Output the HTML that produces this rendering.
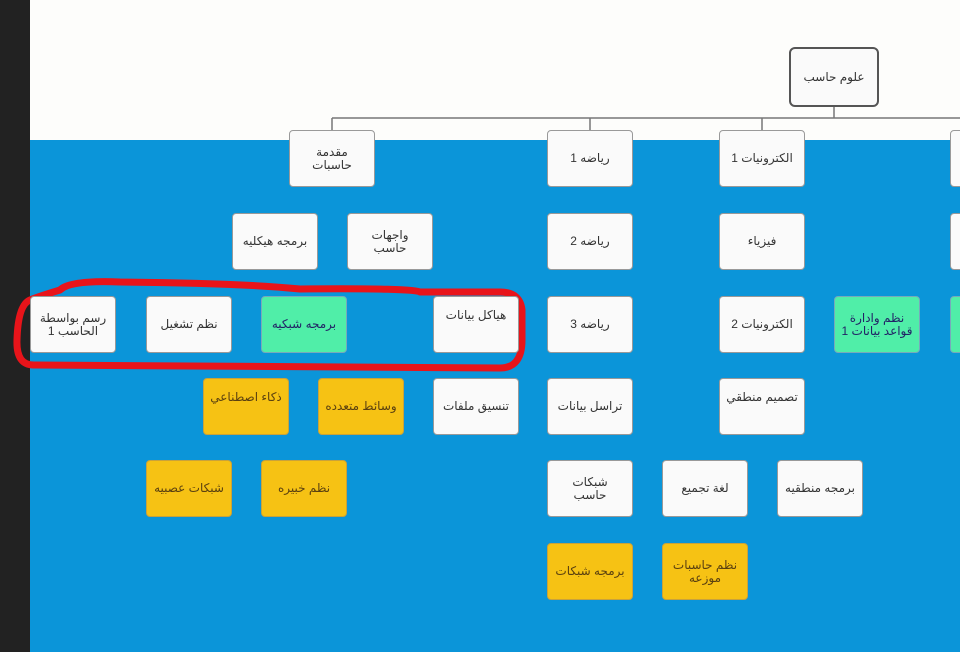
<!DOCTYPE html>
<html><head><meta charset="utf-8"><style>
body{margin:0;width:960px;height:652px;overflow:hidden;position:relative;background:#0b95d9;font-family:"Liberation Sans","DejaVu Sans",sans-serif}
#dark{position:absolute;left:0;top:0;width:30px;height:652px;background:#222}
#white{position:absolute;left:30px;top:0;width:930px;height:140px;background:#fdfdfb}
.b{position:absolute;width:86px;height:57px;box-sizing:border-box;background:#fafafa;border:1.5px solid #999;border-radius:4px;display:flex;align-items:center;justify-content:center;text-align:center;font-size:12px;line-height:13px;color:#333;direction:rtl}
.y{background:#f6c214;border-color:#c9a23a;color:#5a4010}
.g{background:#50eea8;border-color:#7ab;color:#226}
.r{border:2.5px solid #555;border-radius:6px}
</style></head><body>
<div id="dark"></div><div id="white"></div>
<svg style="position:absolute;left:0;top:0" width="960" height="652">
<g stroke="#777" stroke-width="1.5" fill="none">
<path d="M332 118H960M834 106V118M332 118V130M590 118V130M762 118V130"/>
</g>
<path d="M30 300 Q18 305 17 340 Q16 366 35 365 L500 368 Q522 368 522 340 L522 310 Q520 292 500 292 L420 292 Q415 288 300 289 Q240 283 120 282 Q70 280 60 290 Q40 296 30 300Z" stroke="#e8141a" stroke-width="7" fill="none" stroke-linejoin="round"/>
</svg>
<div class="b r" style="left:789px;top:47px;width:90px;height:60px">علوم حاسب</div>
<div class="b" style="left:289px;top:130px">مقدمة<br>حاسبات</div>
<div class="b" style="left:547px;top:130px">رياضه 1</div>
<div class="b" style="left:719px;top:130px">الكترونيات 1</div>
<div class="b" style="left:950px;top:130px"></div>
<div class="b" style="left:232px;top:213px">برمجه هيكليه</div>
<div class="b" style="left:347px;top:213px">واجهات<br>حاسب</div>
<div class="b" style="left:547px;top:213px">رياضه 2</div>
<div class="b" style="left:719px;top:213px">فيزياء</div>
<div class="b" style="left:950px;top:213px"></div>
<div class="b" style="left:30px;top:296px">رسم بواسطة<br>الحاسب 1</div>
<div class="b" style="left:146px;top:296px">نظم تشغيل</div>
<div class="b g" style="left:261px;top:296px">برمجه شبكيه</div>
<div class="b" style="left:433px;top:296px;align-items:flex-start;padding-top:12px">هياكل بيانات</div>
<div class="b" style="left:547px;top:296px">رياضه 3</div>
<div class="b" style="left:719px;top:296px">الكترونيات 2</div>
<div class="b g" style="left:834px;top:296px">نظم وادارة<br>قواعد بيانات 1</div>
<div class="b g" style="left:950px;top:296px"></div>
<div class="b y" style="left:203px;top:378px;align-items:flex-start;padding-top:12px">ذكاء اصطناعي</div>
<div class="b y" style="left:318px;top:378px">وسائط متعدده</div>
<div class="b" style="left:433px;top:378px">تنسيق ملفات</div>
<div class="b" style="left:547px;top:378px">تراسل بيانات</div>
<div class="b" style="left:719px;top:378px;align-items:flex-start;padding-top:12px">تصميم منطقي</div>
<div class="b y" style="left:146px;top:460px">شبكات عصبيه</div>
<div class="b y" style="left:261px;top:460px">نظم خبيره</div>
<div class="b" style="left:547px;top:460px">شبكات<br>حاسب</div>
<div class="b" style="left:662px;top:460px">لغة تجميع</div>
<div class="b" style="left:777px;top:460px">برمجه منطقيه</div>
<div class="b y" style="left:547px;top:543px">برمجه شبكات</div>
<div class="b y" style="left:662px;top:543px">نظم حاسبات<br>موزعه</div>
</body></html>
